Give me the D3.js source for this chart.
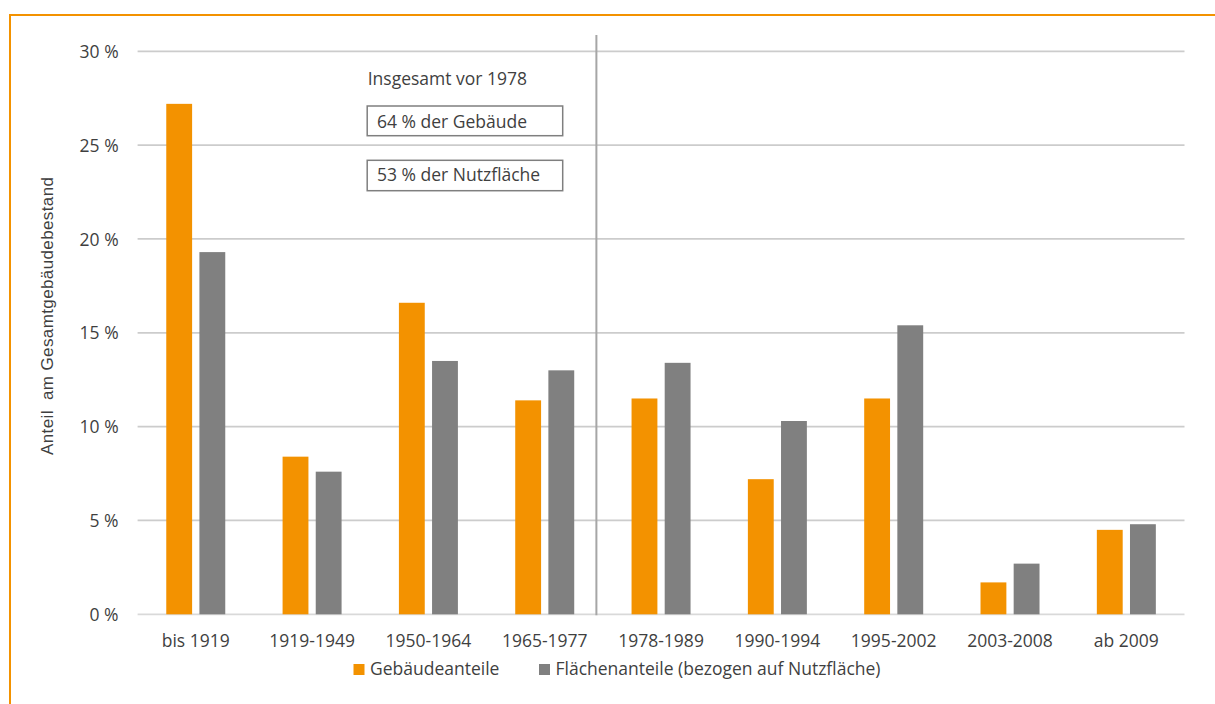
<!DOCTYPE html>
<html>
<head>
<meta charset="utf-8">
<script src="https://cdn.jsdelivr.net/npm/d3@7"></script>
<style>
  html, body { margin: 0; padding: 0; background: #ffffff; }
  svg { display: block; }
  text { font-family: "Open Sans", sans-serif; fill: #3f3f3f; }
</style>
</head>
<body>
<div id="chart"></div>
<script>
// Baualtersklassen und Anteile am Gebäudebestand (in %)
const categories = ["bis 1919", "1919-1949", "1950-1964", "1965-1977", "1978-1989",
                    "1990-1994", "1995-2002", "2003-2008", "ab 2009"];
const gebaeudeanteile = [27.2, 8.4, 16.6, 11.4, 11.5, 7.2, 11.5, 1.7, 4.5];
const flaechenanteile = [19.3, 7.6, 13.5, 13.0, 13.4, 10.3, 15.4, 2.7, 4.8];
const seriesNames = ["Gebäudeanteile", "Flächenanteile (bezogen auf Nutzfläche)"];
const yTicks = [0, 5, 10, 15, 20, 25, 30];
const yTitle = "Anteil  am Gesamtgebäudebestand";
const noteTitle = "Insgesamt vor 1978";
const noteLines = ["64 % der Gebäude", "53 % der Nutzfläche"];

const W = 1215, H = 704;
const ORANGE = "#f39200", GREY = "#808080";
const FS = "17.5px";

const svg = d3.select("#chart").append("svg")
  .attr("width", W).attr("height", H);

svg.append("rect").attr("width", W).attr("height", H).attr("fill", "#fff");

// Rahmenlinie oben und links
svg.append("path")
  .attr("d", `M10,${H} L10,15 L${W},15`)
  .attr("fill", "none")
  .attr("stroke", ORANGE)
  .attr("stroke-width", 2);

const plot = { left: 137.6, right: 1184.5, top: 51.3, bottom: 614.3 };

const x = d3.scaleBand().domain(categories).range([plot.left, plot.right]).padding(0);
const y = d3.scaleLinear().domain([0, 30]).range([plot.bottom, plot.top]);
const xSub = d3.scaleBand().domain([0, 1])
  .range([x.bandwidth() / 2 - 29.5, x.bandwidth() / 2 + 29.5])
  .paddingInner(0.22);

// Gitterlinien
svg.append("g").selectAll("line").data(yTicks).join("line")
  .attr("x1", plot.left).attr("x2", plot.right)
  .attr("y1", d => y(d)).attr("y2", d => y(d))
  .attr("stroke", d => d === 0 ? "#d9d9d9" : "#cccccc")
  .attr("stroke-width", 1.8);

// Y-Achsenbeschriftung
const yAxis = d3.axisLeft(y).tickValues(yTicks).tickSize(0).tickPadding(0)
  .tickFormat(d => d + " %");
const gy = svg.append("g").attr("transform", "translate(118.6,0)").call(yAxis);
gy.select(".domain").remove();
gy.selectAll("text")
  .style("font-family", "'Open Sans', sans-serif")
  .style("font-size", FS)
  .attr("fill", "#3f3f3f")
  .attr("dy", "0.35em");

// Trennlinie vor 1978
const dividerX = x("1978-1989") - 6.5;
svg.append("line")
  .attr("x1", dividerX).attr("x2", dividerX)
  .attr("y1", 35).attr("y2", plot.bottom + 1)
  .attr("stroke", "#a6a6a6")
  .attr("stroke-width", 2);

// Balken
const rows = categories.map((c, i) => ({ cat: c, vals: [gebaeudeanteile[i], flaechenanteile[i]] }));
const colors = [ORANGE, GREY];
const groups = svg.append("g").selectAll("g").data(rows).join("g")
  .attr("transform", d => `translate(${x(d.cat)},0)`);
groups.selectAll("rect").data(d => d.vals.map((v, k) => ({ v, k }))).join("rect")
  .attr("x", d => xSub(d.k))
  .attr("width", xSub.bandwidth())
  .attr("y", d => y(d.v))
  .attr("height", d => y(0) - y(d.v))
  .attr("fill", d => colors[d.k]);

// X-Achsenbeschriftung
const xAxis = d3.axisBottom(x).tickSize(0).tickPadding(0);
const gx = svg.append("g").attr("transform", `translate(0,${plot.bottom})`).call(xAxis);
gx.select(".domain").remove();
gx.selectAll("text")
  .style("font-family", "'Open Sans', sans-serif")
  .style("font-size", FS)
  .attr("fill", "#3f3f3f")
  .attr("y", 33).attr("dy", 0);

// Y-Achsentitel
svg.append("text")
  .attr("transform", "translate(53.3,316) rotate(-90)")
  .attr("text-anchor", "middle")
  .style("font-family", "'Liberation Sans', Arial, sans-serif")
  .style("font-size", "17px")
  .style("white-space", "pre")
  .attr("textLength", 278)
  .attr("lengthAdjust", "spacing")
  .text(yTitle);

// Anmerkung
svg.append("text")
  .attr("x", 367.7).attr("y", 85)
  .style("font-size", FS)
  .text(noteTitle);

const boxes = [{ y: 106, h: 29.7, base: 127.7 }, { y: 160.3, h: 30.4, base: 181 }];
noteLines.forEach((t, i) => {
  svg.append("rect")
    .attr("x", 367.2).attr("y", boxes[i].y)
    .attr("width", 195.5).attr("height", boxes[i].h)
    .attr("fill", "#fff")
    .attr("stroke", "#7f7f7f")
    .attr("stroke-width", 1.5);
  svg.append("text")
    .attr("x", 377).attr("y", boxes[i].base)
    .style("font-size", FS)
    .text(t);
});

// Legende
const legendPos = [353.5, 539];
seriesNames.forEach((name, i) => {
  svg.append("rect")
    .attr("x", legendPos[i]).attr("y", 664)
    .attr("width", 11).attr("height", 11)
    .attr("fill", colors[i]);
  svg.append("text")
    .attr("x", legendPos[i] + 16.5).attr("y", 675)
    .style("font-size", FS)
    .text(name);
});
</script>
</body>
</html>
